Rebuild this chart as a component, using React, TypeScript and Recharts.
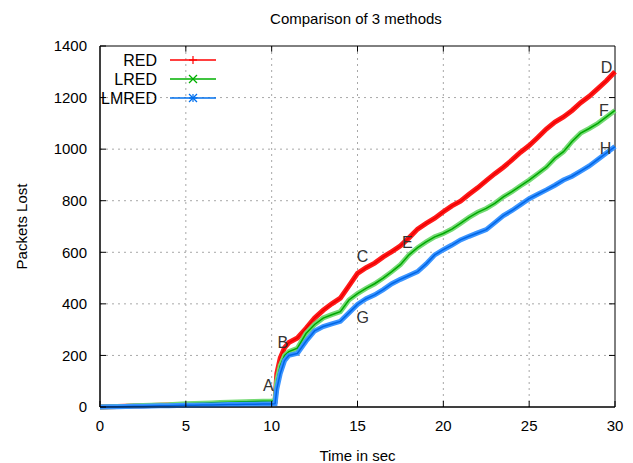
import React from "react";
import { LineChart, Line, XAxis, YAxis, CartesianGrid, ReferenceDot, ReferenceArea, ReferenceLine, Legend } from "recharts";

const times = [0, 0.5, 1, 1.5, 2, 2.5, 3, 3.5, 4, 4.5, 5, 5.5, 6, 6.5, 7, 7.5, 8, 8.5, 9, 9.5, 10, 10.2, 10.3, 10.5, 10.75, 11, 11.5, 12, 12.5, 13, 13.5, 14, 14.5, 15, 15.5, 16, 16.5, 17, 17.5, 18, 18.5, 19, 19.5, 20, 20.5, 21, 21.5, 22, 22.5, 23, 23.5, 24, 24.5, 25, 25.5, 26, 26.5, 27, 27.5, 28, 28.5, 29, 29.5, 30];

const redValues = [0, 1, 2, 3, 4, 5, 6, 7, 8, 8, 10, 11, 12, 13, 13, 15, 16, 17, 18, 19, 21, 22, 130, 190, 230, 250, 268, 305, 345, 375, 400, 422, 470, 518, 540, 558, 582, 603, 625, 656, 690, 712, 732, 757, 780, 798, 825, 850, 878, 905, 930, 958, 988, 1014, 1045, 1078, 1105, 1125, 1150, 1180, 1205, 1235, 1265, 1300];

const lredValues = [0, 1, 2, 3, 5, 6, 7, 8, 9, 11, 13, 14, 15, 16, 17, 18, 19, 20, 21, 22, 23, 24, 100, 160, 200, 215, 228, 285, 320, 345, 358, 370, 415, 440, 460, 478, 500, 525, 552, 590, 618, 640, 660, 673, 690, 712, 735, 755, 770, 790, 815, 835, 858, 880, 905, 930, 965, 990, 1030, 1062, 1080, 1100, 1125, 1150];

const lmredValues = [0, 1, 1, 2, 3, 3, 4, 5, 5, 6, 7, 7, 8, 8, 9, 10, 10, 11, 11, 12, 12, 13, 70, 130, 180, 200, 208, 255, 295, 312, 322, 332, 365, 398, 420, 435, 455, 478, 495, 510, 525, 555, 590, 610, 628, 648, 662, 675, 688, 715, 742, 762, 785, 808, 825, 842, 860, 880, 895, 915, 935, 960, 985, 1010];

const xTicks = [0, 5, 10, 15, 20, 25, 30];
const yTicks = [0, 200, 400, 600, 800, 1000, 1200, 1400];
const xGrid = [5, 10, 15, 20, 25];
const yGrid = [200, 400, 600, 800, 1000, 1200];

const annotations = [
  { label: "A", t: 9.8, v: 85 },
  { label: "B", t: 10.65, v: 252 },
  { label: "C", t: 15.3, v: 585 },
  { label: "E", t: 17.9, v: 640 },
  { label: "G", t: 15.3, v: 349 },
  { label: "D", t: 29.5, v: 1318 },
  { label: "F", t: 29.35, v: 1152 },
  { label: "H", t: 29.45, v: 1004 },
];

const seriesNames = ["RED", "LRED", "LMRED"];

const data = times.map((t, i) => ({
  t,
  red: redValues[i],
  lred: lredValues[i],
  lmred: lmredValues[i],
}));

const X_MAX = 30;
const Y_MAX = 1400;
const TICK_LEN_Y = 22; // inward tick length in data units on y
const TICK_LEN_X = 0.35; // inward tick length in data units on x

const FONT = "'Liberation Sans', Arial, sans-serif";

const legendRows = [
  { name: seriesNames[0], color: "#ff0000", marker: "plus" },
  { name: seriesNames[1], color: "#00b000", marker: "cross" },
  { name: seriesNames[2], color: "#0070ee", marker: "star" },
];

function Marker({ kind, x, y, color }: { kind: string; x: number; y: number; color: string }) {
  const s = 4;
  if (kind === "plus")
    return (
      <g stroke={color} strokeWidth={1.2}>
        <line x1={x - s} y1={y} x2={x + s} y2={y} />
        <line x1={x} y1={y - s} x2={x} y2={y + s} />
      </g>
    );
  if (kind === "cross")
    return (
      <g stroke={color} strokeWidth={1.2}>
        <line x1={x - s} y1={y - s} x2={x + s} y2={y + s} />
        <line x1={x - s} y1={y + s} x2={x + s} y2={y - s} />
      </g>
    );
  return (
    <g stroke={color} strokeWidth={1.2}>
      <line x1={x - s} y1={y} x2={x + s} y2={y} />
      <line x1={x} y1={y - s} x2={x} y2={y + s} />
      <line x1={x - s} y1={y - s} x2={x + s} y2={y + s} />
      <line x1={x - s} y1={y + s} x2={x + s} y2={y - s} />
    </g>
  );
}

function renderLegend() {
  return (
    <svg width={240} height={110} style={{ display: "block" }}>
      {legendRows.map((r, i) => {
        const y = 60 + i * 19;
        return (
          <g key={r.name}>
            <text x={157} y={y} textAnchor="end" dominantBaseline="central" fontFamily={FONT} fontSize={16} fill="#000">
              {r.name}
            </text>
            <line x1={170} y1={y} x2={216} y2={y} stroke={r.color} strokeWidth={1.5} />
            <Marker kind={r.marker} x={193} y={y} color={r.color} />
          </g>
        );
      })}
    </svg>
  );
}

export default function App() {
  return (
    <div style={{ position: "absolute", left: 0, top: 0, width: 633, height: 463, background: "#fff" }}>
      <LineChart width={633} height={463} data={data} margin={{ top: 46, right: 18, left: 0, bottom: 0 }}>
        <CartesianGrid stroke="#a8a8a8" strokeDasharray="2 4" horizontalValues={yGrid} verticalValues={xGrid} />
        <XAxis
          dataKey="t"
          type="number"
          domain={[0, X_MAX]}
          ticks={xTicks}
          height={56}
          stroke="#000"
          tickSize={-6}
          tickMargin={19}
          tick={{ fill: "#000", fontFamily: FONT, fontSize: 15 }}
          label={{ value: "Time in sec", position: "insideBottom", offset: 2, fill: "#000", fontFamily: FONT, fontSize: 15 }}
        />
        <YAxis
          type="number"
          domain={[0, Y_MAX]}
          ticks={yTicks}
          width={100}
          stroke="#000"
          tickSize={-6}
          tickMargin={19}
          tick={{ fill: "#000", fontFamily: FONT, fontSize: 15 }}
          label={{ value: "Packets Lost", angle: -90, position: "insideLeft", offset: 22, fill: "#000", fontFamily: FONT, fontSize: 15, style: { textAnchor: "middle" } }}
        />
        <ReferenceArea x1={0} x2={X_MAX} y1={0} y2={Y_MAX} fill="none" fillOpacity={0} stroke="#000" strokeWidth={1} ifOverflow="visible" />
        {xTicks.slice(1, -1).map((t) => (
          <ReferenceLine key={"tt" + t} segment={[{ x: t, y: Y_MAX }, { x: t, y: Y_MAX - TICK_LEN_Y }]} stroke="#000" ifOverflow="visible" />
        ))}
        {yTicks.slice(1, -1).map((v) => (
          <ReferenceLine key={"rt" + v} segment={[{ x: X_MAX, y: v }, { x: X_MAX - TICK_LEN_X, y: v }]} stroke="#000" ifOverflow="visible" />
        ))}
        <text x={356} y={18} textAnchor="middle" dominantBaseline="central" fontFamily={FONT} fontSize={15} fill="#000">
          Comparison of 3 methods
        </text>
        <Legend content={renderLegend} layout="vertical" align="center" verticalAlign="middle" wrapperStyle={{ left: 0, top: 0, width: 240, height: 110 }} />
        <Line dataKey="red" name="RED band" stroke="#ff1a1a" strokeWidth={5} dot={false} legendType="none" isAnimationActive={false} />
        <Line dataKey="red" name="RED" stroke="#ee0000" strokeWidth={1.5} dot={false} isAnimationActive={false} />
        <Line dataKey="lred" name="LRED band" stroke="#74da74" strokeWidth={5} dot={false} legendType="none" isAnimationActive={false} />
        <Line dataKey="lred" name="LRED" stroke="#00a800" strokeWidth={1.5} dot={false} isAnimationActive={false} />
        <Line dataKey="lmred" name="LMRED band" stroke="#3a94ff" strokeWidth={5} dot={false} legendType="none" isAnimationActive={false} />
        <Line dataKey="lmred" name="LMRED" stroke="#0066e6" strokeWidth={1.5} dot={false} isAnimationActive={false} />
        {annotations.map((a) => (
          <ReferenceDot
            key={a.label}
            x={a.t}
            y={a.v}
            r={0}
            ifOverflow="visible"
            label={{ value: a.label, position: "center", fill: "#333", fontFamily: FONT, fontSize: 16 }}
          />
        ))}
      </LineChart>
    </div>
  );
}
